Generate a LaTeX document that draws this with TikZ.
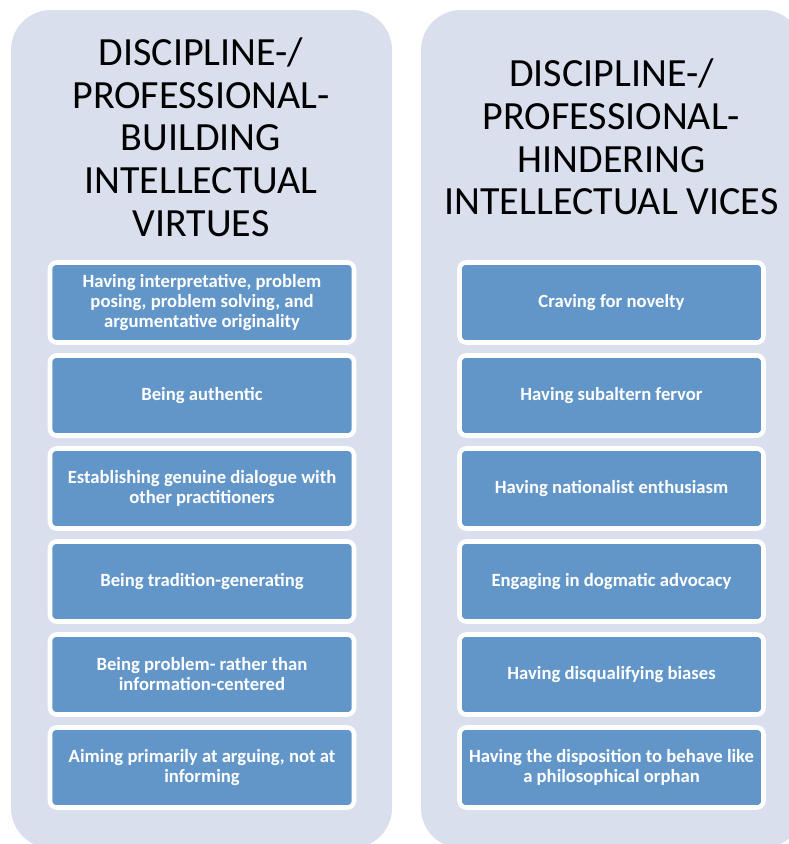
\documentclass[tikz,border=0pt]{standalone}
\usepackage{fontspec}
\setmainfont{Carlito}
\usetikzlibrary{positioning}
\definecolor{panelfill}{RGB}{217,223,237}
\definecolor{itemblue}{RGB}{98,150,201}
\tikzset{
  panel/.style={
    fill=panelfill, rounded corners=30pt
  },
  paneltitle/.style={
    align=center, text=black, inner sep=0pt,
    font=\fontsize{30}{32}\selectfont
  },
  itembox/.style={
    draw=white, line width=3.4pt, fill=itemblue, rounded corners=5pt,
    minimum width=228pt, minimum height=60pt, inner sep=0pt, outer sep=0pt,
    align=center, text=white,
    font=\fontsize{14}{15}\selectfont\bfseries
  }
}

\begin{document}
\begin{tikzpicture}[x=0.75pt,y=-0.75pt,node distance=9.75pt]
\useasboundingbox (0,0) rectangle (789,844);
\clip (0,0) rectangle (789,844);
% the two columns
\fill[panel] (11,10) rectangle (392,848);
\fill[panel] (421,10) rectangle (803,848);
\node[paneltitle] (virtues) at (201,137)
  {DISCIPLINE-/\\PROFESSIONAL-\\BUILDING\\INTELLECTUAL\\VIRTUES};
\node[paneltitle] (vices) at (611.5,137)
  {DISCIPLINE-/\\PROFESSIONAL-\\HINDERING\\INTELLECTUAL VICES};
% virtues
\node[itembox] (v1) at (202,302.5)
  {Having interpretative, problem\\posing, problem solving, and\\argumentative originality};
\node[itembox, below=of v1] (v2) {Being authentic};
\node[itembox, below=of v2] (v3) {Establishing genuine dialogue with\\other practitioners};
\node[itembox, below=of v3] (v4) {Being tradition-generating};
\node[itembox, below=of v4] (v5) {Being problem- rather than\\information-centered};
\node[itembox, below=of v5] (v6) {Aiming primarily at arguing, not at\\informing};
% vices
\node[itembox] (h1) at (611.5,302.5) {Craving for novelty};
\node[itembox, below=of h1] (h2) {Having subaltern fervor};
\node[itembox, below=of h2] (h3) {Having nationalist enthusiasm};
\node[itembox, below=of h3] (h4) {Engaging in dogmatic advocacy};
\node[itembox, below=of h4] (h5) {Having disqualifying biases};
\node[itembox, below=of h5] (h6) {Having the disposition to behave like\\a philosophical orphan};
\end{tikzpicture}
\end{document}
